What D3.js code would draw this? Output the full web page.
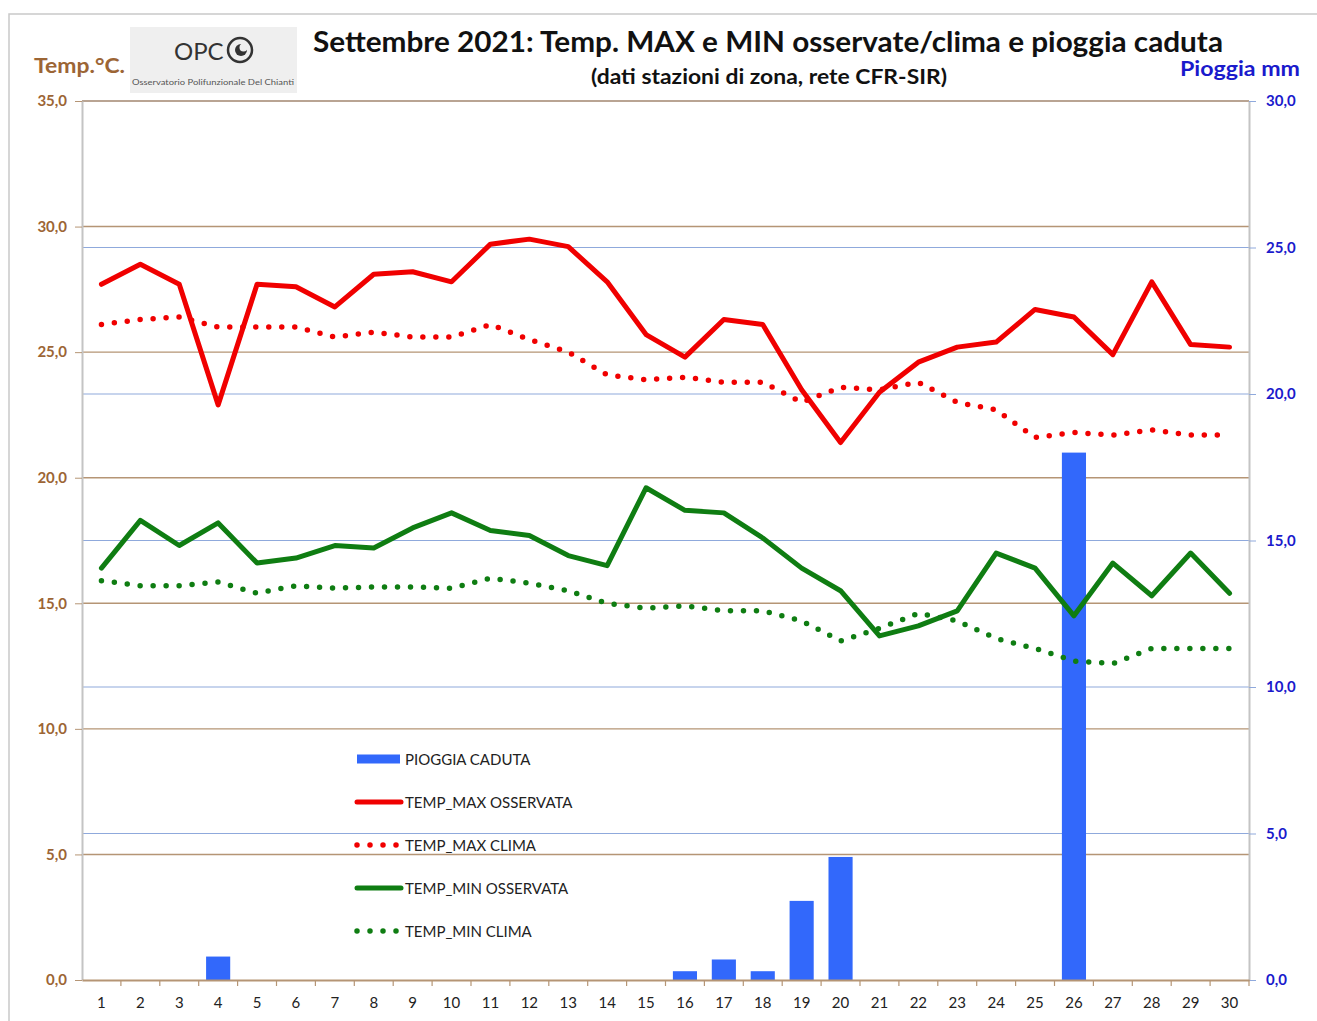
<!DOCTYPE html>
<html>
<head>
<meta charset="utf-8">
<script src="https://cdn.jsdelivr.net/npm/d3@7"></script>
<style>
body { margin: 0; background: #fff; }
text { font-family: Lato, "Open Sans", sans-serif; }
</style>
</head>
<body>
<svg id="chart" width="1317" height="1021"></svg>
<script>
const giorni = ["1","2","3","4","5","6","7","8","9","10","11","12","13","14","15",
    "16","17","18","19","20","21","22","23","24","25","26","27","28","29","30"];
const pioggia = [0, 0, 0, 0.8, 0, 0, 0, 0, 0, 0, 0, 0, 0, 0, 0,
    0.3, 0.7, 0.3, 2.7, 4.2, 0, 0, 0, 0, 0, 18.0, 0, 0, 0, 0];
const tempMax = [27.7, 28.5, 27.7, 22.9, 27.7, 27.6, 26.8, 28.1, 28.2, 27.8, 29.3, 29.5, 29.2, 27.8, 25.7,
    24.8, 26.3, 26.1, 23.5, 21.4, 23.4, 24.6, 25.2, 25.4, 26.7, 26.4, 24.9, 27.8, 25.3, 25.2];
const tempMaxClima = [26.1, 26.3, 26.4, 26.0, 26.0, 26.0, 25.6, 25.8, 25.6, 25.6, 26.1, 25.5, 25.0, 24.1, 23.9,
    24.0, 23.8, 23.8, 23.0, 23.6, 23.5, 23.8, 23.0, 22.7, 21.6, 21.8, 21.7, 21.9, 21.7, 21.7];
const tempMin = [16.4, 18.3, 17.3, 18.2, 16.6, 16.8, 17.3, 17.2, 18.0, 18.6, 17.9, 17.7, 16.9, 16.5, 19.6,
    18.7, 18.6, 17.6, 16.4, 15.5, 13.7, 14.1, 14.7, 17.0, 16.4, 14.5, 16.6, 15.3, 17.0, 15.4];
const tempMinClima = [15.9, 15.7, 15.7, 15.85, 15.4, 15.7, 15.6, 15.65, 15.65, 15.6, 16.0, 15.8, 15.5, 15.0, 14.8,
    14.9, 14.7, 14.7, 14.3, 13.5, 14.0, 14.6, 14.3, 13.6, 13.2, 12.7, 12.6, 13.2, 13.2, 13.2];
const tickTemp = [0, 5, 10, 15, 20, 25, 30, 35];
const tickPioggia = [0, 5, 10, 15, 20, 25, 30];
const vociLegenda = ["PIOGGIA CADUTA", "TEMP_MAX OSSERVATA", "TEMP_MAX CLIMA", "TEMP_MIN OSSERVATA", "TEMP_MIN CLIMA"];

var svg = d3.select("#chart");
var plotL = 82, plotR = 1249, plotT = 101, plotB = 980;
var brown = "#9c6535", blueTxt = "#1a1acc";
var red = "#f00000", green = "#0f7d12", barBlue = "#3268fb";

// cornice
svg.append("rect")
    .attr("x", 9).attr("y", 14).attr("width", 1330).attr("height", 1015)
    .attr("fill", "none").attr("stroke", "#c9c9c9").attr("stroke-width", 1.5);

var xScale = d3.scaleBand().domain(giorni).range([plotL, plotR]),
    yTemp = d3.scaleLinear().domain([0, 35]).range([plotB, plotT]),
    yRain = d3.scaleLinear().domain([0, 30]).range([plotB, plotT]);

// griglia
svg.append("g").selectAll("line")
    .data(tickPioggia.filter(d => d > 0))
    .enter().append("line")
    .attr("x1", plotL).attr("x2", plotR)
    .attr("y1", d => yRain(d)).attr("y2", d => yRain(d))
    .attr("stroke", "#8fa9dc").attr("stroke-width", 1.2);

svg.append("g").selectAll("line")
    .data(tickTemp.filter(d => d > 0))
    .enter().append("line")
    .attr("x1", plotL).attr("x2", plotR)
    .attr("y1", d => yTemp(d)).attr("y2", d => yTemp(d))
    .attr("stroke", "#b59575").attr("stroke-width", 1.4);

var fmt = function (d) { return d.toFixed(1).replace(".", ","); };

// asse sinistro
var axL = svg.append("g")
    .attr("transform", "translate(" + plotL + ",0)")
    .call(d3.axisLeft(yTemp).tickValues(tickTemp).tickSize(7).tickSizeOuter(0).tickPadding(8).tickFormat(fmt));
axL.select(".domain").attr("stroke", "#c4c4c4").attr("stroke-width", 2);
axL.selectAll(".tick line").attr("stroke", "#b59575");
axL.selectAll(".tick text").attr("fill", brown)
    .style("font-size", "15px").style("font-weight", "bold");

// asse destro
var axR = svg.append("g")
    .attr("transform", "translate(" + plotR + ",0)")
    .call(d3.axisRight(yRain).tickValues(tickPioggia).tickSize(7).tickSizeOuter(0).tickPadding(10).tickFormat(fmt));
axR.select(".domain").attr("stroke", "#c4c4c4").attr("stroke-width", 2);
axR.selectAll(".tick line").attr("stroke", "#8fa9dc");
axR.selectAll(".tick text").attr("fill", blueTxt)
    .style("font-size", "15px").style("font-weight", "bold");

// barre pioggia
svg.append("g").selectAll("rect")
    .data(giorni)
    .enter().append("rect")
    .attr("fill", barBlue)
    .attr("x", d => xScale(d) + xScale.bandwidth() * 0.19)
    .attr("width", xScale.bandwidth() * 0.62)
    .attr("y", (d, i) => yRain(pioggia[i]))
    .attr("height", (d, i) => plotB - yRain(pioggia[i]));

// asse x
var axB = svg.append("g")
    .attr("transform", "translate(0," + plotB + ")")
    .call(d3.axisBottom(xScale).tickSize(0).tickSizeOuter(0).tickPadding(17));
axB.select(".domain").attr("stroke", "#b59575").attr("stroke-width", 2);
axB.selectAll(".tick text").attr("fill", "#222").style("font-size", "15px");
axB.selectAll(".sep")
    .data(giorni)
    .enter().append("line")
    .attr("class", "sep")
    .attr("x1", d => xScale(d) + xScale.bandwidth()).attr("x2", d => xScale(d) + xScale.bandwidth())
    .attr("y1", 0).attr("y2", 6)
    .attr("stroke", "#b59575").attr("stroke-width", 1.2);

// linee
var serie = [
    { val: tempMax, color: red, dash: null },
    { val: tempMaxClima, color: red, dash: "0,13" },
    { val: tempMin, color: green, dash: null },
    { val: tempMinClima, color: green, dash: "0,13" }
];
serie.forEach(function (s) {
    var line = d3.line()
        .x((d, i) => xScale(giorni[i]) + xScale.bandwidth() / 2)
        .y(d => yTemp(d));
    svg.append("path")
        .datum(s.val)
        .attr("fill", "none")
        .attr("stroke", s.color)
        .attr("stroke-width", s.dash ? 5.5 : 5)
        .attr("stroke-linejoin", "round")
        .attr("stroke-linecap", "round")
        .attr("stroke-dasharray", s.dash)
        .attr("d", line);
});

// legenda
var leg = svg.append("g").attr("transform", "translate(357,759)");
vociLegenda.forEach(function (v, i) {
    var row = leg.append("g").attr("transform", "translate(0," + (i * 43) + ")");
    if (i === 0) {
        row.append("rect").attr("x", 0).attr("y", -4.5).attr("width", 43).attr("height", 9).attr("fill", barBlue);
    } else {
        var s = serie[i - 1];
        row.append("line")
            .attr("x1", 0).attr("x2", s.dash ? 40 : 44)
            .attr("y1", 0).attr("y2", 0)
            .attr("stroke", s.color)
            .attr("stroke-width", s.dash ? 5.5 : 5)
            .attr("stroke-linecap", "round")
            .attr("stroke-dasharray", s.dash);
    }
    row.append("text")
        .attr("x", 48).attr("y", 5.5)
        .attr("font-size", "15px")
        .attr("fill", "#222")
        .text(v);
});

// titoli
svg.append("text")
    .attr("x", 768).attr("y", 52)
    .attr("text-anchor", "middle")
    .attr("font-size", "28px").attr("font-weight", "bold").attr("fill", "#111")
    .attr("textLength", 910).attr("lengthAdjust", "spacingAndGlyphs")
    .text("Settembre 2021: Temp. MAX e MIN osservate/clima e pioggia caduta");

svg.append("text")
    .attr("x", 769).attr("y", 84)
    .attr("text-anchor", "middle")
    .attr("font-size", "20px").attr("font-weight", "bold").attr("fill", "#111")
    .attr("textLength", 356).attr("lengthAdjust", "spacingAndGlyphs")
    .text("(dati stazioni di zona, rete CFR-SIR)");

svg.append("text")
    .attr("x", 34).attr("y", 73)
    .attr("font-size", "20px").attr("font-weight", "bold").attr("fill", brown)
    .attr("textLength", 91).attr("lengthAdjust", "spacingAndGlyphs")
    .text("Temp.°C.");

svg.append("text")
    .attr("x", 1300).attr("y", 76)
    .attr("text-anchor", "end")
    .attr("font-size", "20px").attr("font-weight", "bold").attr("fill", blueTxt)
    .attr("textLength", 120).attr("lengthAdjust", "spacingAndGlyphs")
    .text("Pioggia mm");

// logo
var logo = svg.append("g");
logo.append("rect").attr("x", 130).attr("y", 27).attr("width", 167).attr("height", 66).attr("fill", "#efefef");
logo.append("text")
    .attr("x", 174).attr("y", 60)
    .attr("font-size", "24px").attr("fill", "#333")
    .text("OPC");
logo.append("circle").attr("cx", 240).attr("cy", 50).attr("r", 12)
    .attr("fill", "none").attr("stroke", "#333").attr("stroke-width", 2.5);
logo.append("circle").attr("cx", 241).attr("cy", 50).attr("r", 6).attr("fill", "#333");
logo.append("circle").attr("cx", 243.5).attr("cy", 47.5).attr("r", 4).attr("fill", "#efefef");
logo.append("text")
    .attr("x", 213).attr("y", 85)
    .attr("text-anchor", "middle")
    .attr("font-size", "7px").attr("fill", "#555")
    .attr("textLength", 162).attr("lengthAdjust", "spacingAndGlyphs")
    .text("Osservatorio Polifunzionale Del Chianti");
</script>
</body>
</html>
